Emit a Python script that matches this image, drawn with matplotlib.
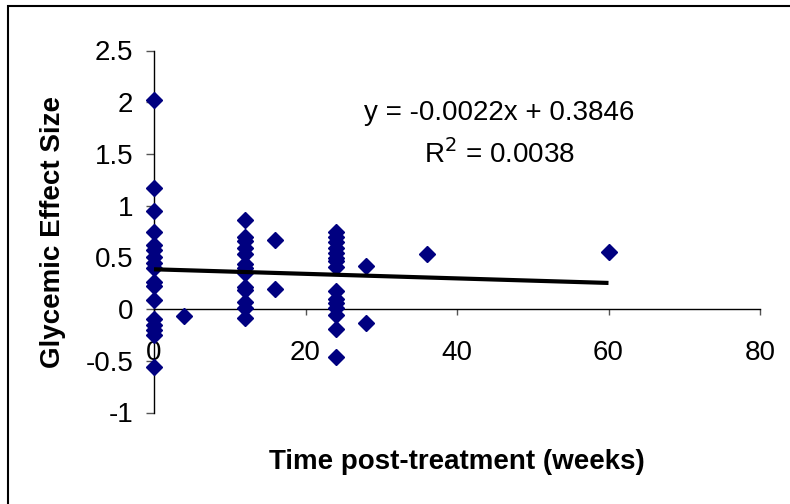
import numpy as np
import matplotlib
matplotlib.use("Agg")
import matplotlib.pyplot as plt
from matplotlib.patches import Rectangle

# ----------------------------
# Data
# ----------------------------
weeks_0 = [2.02, 1.17, 0.95, 0.75, 0.62, 0.57, 0.50, 0.45, 0.40, 0.26,
           0.22, 0.09, -0.10, -0.15, -0.20, -0.25, -0.56]
weeks_4 = [-0.07]
weeks_12 = [0.86, 0.70, 0.66, 0.59, 0.53, 0.44, 0.40, 0.35, 0.21, 0.18,
            0.07, 0.01, -0.09]
weeks_16 = [0.67, 0.19]
weeks_24 = [0.75, 0.70, 0.65, 0.59, 0.54, 0.49, 0.46, 0.41, 0.17, 0.10,
            0.06, 0.01, -0.06, -0.19, -0.46]
weeks_28 = [0.42, -0.13]
weeks_36 = [0.53]
weeks_60 = [0.55]

groups = {0: weeks_0, 4: weeks_4, 12: weeks_12, 16: weeks_16,
          24: weeks_24, 28: weeks_28, 36: weeks_36, 60: weeks_60}

slope = -0.0022
intercept = 0.3846
r_squared = 0.0038

x_ticks = [0, 20, 40, 60, 80]
y_ticks = [-1, -0.5, 0, 0.5, 1, 1.5, 2, 2.5]

W, H = 790, 504


def main():
    plt.rcParams["font.family"] = ["Liberation Sans", "DejaVu Sans"]
    plt.rcParams["axes.unicode_minus"] = False

    fig = plt.figure(figsize=(W / 100, H / 100), dpi=100)
    ax = fig.add_axes([154 / W, 1 - 412.5 / H, (760 - 154) / W, (412.5 - 50.5) / H])

    xs = [x for x, vals in groups.items() for _ in vals]
    ys = [v for vals in groups.values() for v in vals]
    ax.plot(xs, ys, linestyle="none", marker="D", ms=8.5,
            color="#000080", zorder=3, clip_on=False)

    # linear trendline over the data range
    tx = np.array([min(xs), max(xs)])
    ax.plot(tx, slope * tx + intercept, color="black", lw=3, zorder=4,
            solid_capstyle="butt", clip_on=False)

    ax.set_xlim(0, 80)
    ax.set_ylim(-1, 2.5)
    ax.set_xticks(x_ticks)
    ax.set_yticks(y_ticks)
    ax.set_yticklabels([f"{v:g}" for v in y_ticks])

    for side in ("top", "right"):
        ax.spines[side].set_visible(False)
    ax.spines["bottom"].set_position(("data", 0))
    ax.spines["left"].set_position(("data", 0))
    for side in ("bottom", "left"):
        ax.spines[side].set_linewidth(1.0)
        ax.spines[side].set_zorder(2)

    ax.tick_params(axis="y", direction="out", length=6, width=1,
                   color="#555555", labelsize=20, pad=9)
    ax.tick_params(axis="x", direction="out", length=4.5, width=1,
                   color="#555555", labelsize=20, pad=18)

    fig.text(499 / W, 1 - 113 / H, f"y = {slope}x + {intercept}",
             ha="center", va="center", fontsize=20)
    fig.text(499 / W, 1 - 154 / H, f"R$^2$ = {r_squared}",
             ha="center", va="center", fontsize=20)

    fig.text(53 / W, 1 - 232 / H, "Glycemic Effect Size", rotation=90,
             ha="center", va="center", fontsize=20, fontweight="bold")
    fig.text(457 / W, 1 - 462 / H, "Time post-treatment (weeks)",
             ha="center", va="center", fontsize=20, fontweight="bold")

    # chart border (only top and left edges fall inside the image)
    fig.patches.append(Rectangle((8 / W, -0.1), 1.2, 1.1 - 6 / H,
                                 transform=fig.transFigure, fill=False,
                                 edgecolor="black", lw=1.5))

    fig.savefig("out.png", dpi=100)


if __name__ == "__main__":
    main()
